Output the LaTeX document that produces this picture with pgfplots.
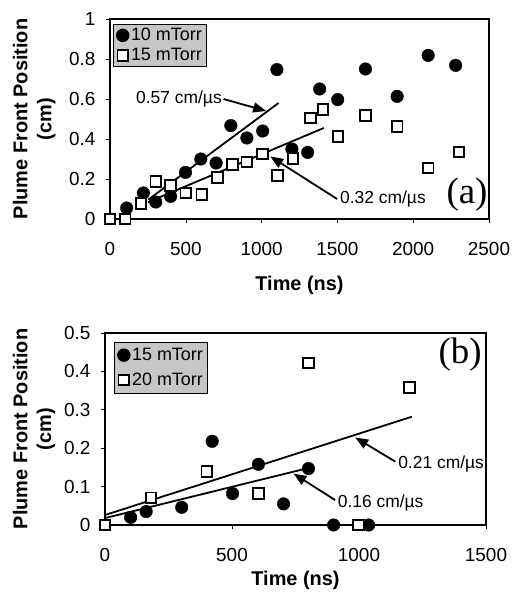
\documentclass[border=0pt]{standalone}
\usepackage{fontspec}
\setmainfont{Liberation Sans}
\newfontfamily\serifpanel{Liberation Serif}
\usepackage{pgfplots}
\pgfplotsset{compat=1.18}
\usetikzlibrary{arrows.meta}

\pgfplotsset{
  plume/.style={
    scale only axis,
    axis line style={line width=1.8bp},
    tick align=outside,
    xtick pos=bottom, ytick pos=left,
    tick style={black, line width=0.6bp},
    major tick length=4bp,
    /pgf/number format/assume math mode=true,
    /pgf/number format/1000 sep={},
    tick label style={font=\fontsize{19}{20}\selectfont},
    xticklabel style={yshift=-16bp},
    yticklabel style={xshift=-7bp},
    label style={font=\fontsize{20}{24}\selectfont\bfseries},
    ylabel={Plume Front Position\\(cm)},
    xlabel={Time (ns)},
    legend cell align=left,
    legend image code/.code={\draw[##1] plot coordinates {(0cm,0cm)};},
    legend style={fill=gray!45, draw=black, line width=0.8bp,
      font=\fontsize{18}{20}\selectfont, anchor=north west,
      inner xsep=3bp, inner ysep=2bp, row sep=2bp},
  },
  circ/.style={only marks, mark=*, mark size=6.3bp, black},
  sq/.style={only marks, mark=square*, mark size=5.3bp, black, line width=1.8bp,
    mark options={fill=white}},
  fitline/.style={no marks, black, line width=1.8bp, forget plot},
}
\tikzset{
  pointer/.style={-{Triangle[length=13bp,width=10bp]}, line width=1.8bp},
  note/.style={font=\fontsize{17.5}{19}\selectfont, inner sep=1bp},
}

\begin{document}
\begin{tikzpicture}
% (a) 10 and 15 mTorr
\begin{axis}[plume,
  at={(110bp,374bp)}, anchor=south west,
  width=379bp, height=200bp,
  xmin=0, xmax=2500, ymin=0, ymax=1,
  xtick={0,500,...,2500}, ytick={0,0.2,...,1},
  ylabel style={align=center, at={(axis description cs:-0.2,0.5)}, anchor=center},
  xlabel style={at={(axis description cs:0.5,-0.33)}, anchor=center},
  legend style={at={(axis description cs:0.008,0.975)}},
]
\addplot[circ] coordinates {
  (110,0.055) (220,0.13) (302,0.085) (400,0.113) (498,0.233) (599,0.30)
  (700,0.28) (797,0.467) (903,0.405) (1007,0.44) (1101,0.747) (1200,0.35)
  (1304,0.333) (1383,0.65) (1502,0.597) (1685,0.75) (1894,0.613)
  (2099,0.818) (2280,0.768)
};
\addlegendentry{10 mTorr}
\addplot[sq] coordinates {
  (0,0) (100,0) (205,0.077) (302,0.188) (400,0.167) (500,0.13) (606,0.122)
  (709,0.208) (808,0.272) (903,0.285) (1007,0.325) (1106,0.218)
  (1207,0.302) (1322,0.505) (1405,0.547) (1504,0.413) (1685,0.518)
  (1894,0.463) (2099,0.255) (2302,0.335)
};
\addlegendentry{15 mTorr}
\addplot[fitline] coordinates {(253,0.097) (1112,0.58)};
\addplot[fitline] coordinates {(250,0.084) (1410,0.455)};
\draw[pointer] (axis cs:749,0.60) -- (axis cs:1030,0.54);
\node[note, anchor=east] at (axis cs:745,0.60) {0.57 cm/µs};
\draw[pointer] (axis cs:1498,0.10) -- (axis cs:1057,0.313);
\node[note, anchor=west] at (axis cs:1510,0.10) {0.32 cm/µs};
\node[font=\serifpanel\fontsize{37}{40}\selectfont] at (axis cs:2355,0.12) {(a)};
\end{axis}

% (b) 15 and 20 mTorr
\begin{axis}[plume,
  at={(105bp,68bp)}, anchor=south west,
  width=381bp, height=192bp,
  xmin=0, xmax=1500, ymin=0, ymax=0.5,
  xtick={0,500,1000,1500}, ytick={0,0.1,...,0.5},
  ylabel style={align=center, at={(axis description cs:-0.186,0.5)}, anchor=center},
  xlabel style={at={(axis description cs:0.5,-0.29)}, anchor=center},
  legend style={at={(axis description cs:0.024,0.954)}, row sep=7bp, inner ysep=4bp},
]
\addplot[circ] coordinates {
  (101,0.02) (162,0.035) (302,0.046) (422,0.218) (502,0.082) (604,0.158)
  (703,0.055) (801,0.147) (900,0) (1038,0)
};
\addlegendentry{15 mTorr}
\addplot[sq] coordinates {
  (0,0) (181,0.071) (401,0.139) (604,0.082) (801,0.422) (998,0) (1199,0.358)
};
\addlegendentry{20 mTorr}
\addplot[fitline] coordinates {(0,0.026) (1208,0.282)};
\addplot[fitline] coordinates {(0,0.018) (780,0.145)};
\draw[pointer] (axis cs:1143,0.165) -- (axis cs:985,0.228);
\node[note, anchor=west] at (axis cs:1150,0.16) {0.21 cm/µs};
\draw[pointer] (axis cs:906,0.065) -- (axis cs:742,0.134);
\node[note, anchor=west] at (axis cs:912,0.057) {0.16 cm/µs};
\node[font=\serifpanel\fontsize{37}{40}\selectfont] at (axis cs:1398,0.443) {(b)};
\end{axis}
\pgfresetboundingbox
\path (0,0) rectangle (514bp,593bp);
\end{tikzpicture}
\end{document}
